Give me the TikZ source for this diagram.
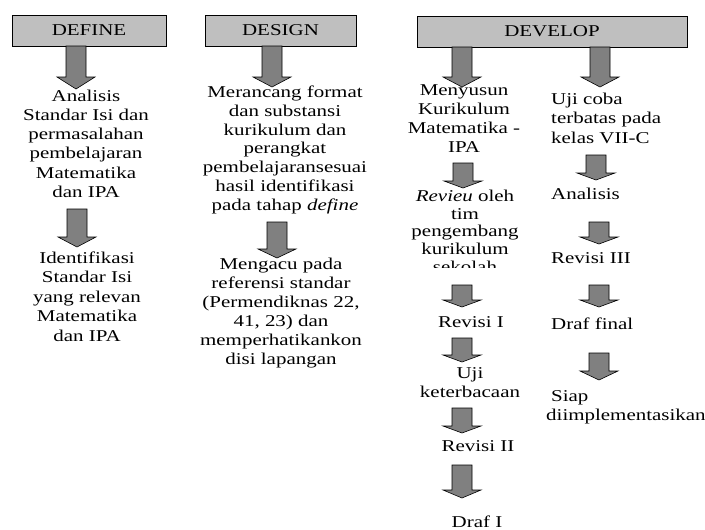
\documentclass[tikz,border=0pt]{standalone}
\usepackage{fontspec}
\setmainfont{Liberation Serif}[FakeStretch=1.27]
\usetikzlibrary{calc}
\definecolor{hdrgray}{gray}{0.75}
\definecolor{arrgray}{gray}{0.5}
\tikzset{
  hdr/.style={draw=black, line width=0.8pt, fill=hdrgray, inner sep=0pt,
    font=\fontsize{16.5}{19}\selectfont},
  txt/.style={inner sep=0pt, align=center, anchor=north,
    font=\fontsize{16.5}{19.2}\selectfont, execute at begin node=\strut},
  txtl/.style={txt, align=left, anchor=north west},
  blk/.style={draw=black, line width=0.6pt, fill=arrgray,
    to path={let \p1=(\tikztostart), \p2=(\tikztotarget) in
      (\x1-10pt,\y1) -- (\x1+10pt,\y1) -- (\x1+10pt,\y2+#1) -- (\x1+19pt,\y2+#1)
      -- (\x1,\y2) -- (\x1-19pt,\y2+#1) -- (\x1-10pt,\y2+#1) -- cycle}},
  blk/.default=10pt
}
\begin{document}
\begin{tikzpicture}[x=1pt,y=-1pt]
\useasboundingbox (0,0) rectangle (705,530);
% headers
\node[hdr, minimum width=154pt, minimum height=31pt] (define) at (89,30.5) {DEFINE};
\node[hdr, minimum width=151pt, minimum height=31pt] (design) at (280.5,30.5) {DESIGN};
\node[hdr, minimum width=270pt, minimum height=31pt] (develop) at (552,31.5) {DEVELOP};
% DEFINE column
\node[txt] (d1) at (86,89.6) {Analisis\\Standar Isi dan\\permasalahan\\pembelajaran\\Matematika\\dan IPA};
\node[txt, font=\fontsize{16.5}{19.5}\selectfont] (d2) at (87,251.6) {Identifikasi\\Standar Isi\\yang relevan\\Matematika\\dan IPA};
% DESIGN column
\node[txt, font=\fontsize{16.5}{18.8}\selectfont] (g1) at (285,85.6) {Merancang format\\dan substansi\\kurikulum dan\\perangkat\\pembelajaransesuai\\hasil identifikasi\\pada tahap \textit{define}};
\node[txt, font=\fontsize{16.5}{19}\selectfont] (g2) at (281,257.6) {Mengacu pada\\referensi standar\\(Permendiknas 22,\\41, 23) dan\\memperhatikankon\\disi lapangan};
% DEVELOP left column
\node[txt, font=\fontsize{16.5}{19}\selectfont] (v1) at (464,84.6) {Menyusun\\Kurikulum\\Matematika -\\IPA};
\begin{scope}
\clip (400,150) rectangle (540,267);
\node[txt, font=\fontsize{16.5}{17.8}\selectfont] (v2) at (465,189.6) {\textit{Revieu} oleh\\tim\\pengembang\\kurikulum\\sekolah};
\end{scope}
\node[txt] (v3) at (471,313.6) {Revisi I};
\node[txt, font=\fontsize{16.5}{18.5}\selectfont] (v4) at (470,367.6) {Uji\\keterbacaan};
\node[txt] (v5) at (478,437.6) {Revisi II};
\node[txt] (v6) at (477,513.6) {Draf I};
% DEVELOP right column
\node[txtl, font=\fontsize{16.5}{19.5}\selectfont] (r1) at (551,92.6) {Uji coba\\terbatas pada\\kelas VII-C};
\node[txtl] (r2) at (551,185.6) {Analisis};
\node[txtl] (r3) at (551,249.6) {Revisi III};
\node[txtl] (r4) at (551,315.6) {Draf final};
\node[txtl, font=\fontsize{16.5}{19.5}\selectfont] (r5) at (546,390) {\hspace*{5pt}Siap\\diimplementasikan};
% arrow end points
\coordinate (a1s) at (76,46);  \coordinate (a1e) at (76,89);
\coordinate (a2s) at (77,209); \coordinate (a2e) at (77,247);
\coordinate (a3s) at (272,46); \coordinate (a3e) at (272,87);
\coordinate (a4s) at (277,222); \coordinate (a4e) at (277,258);
\coordinate (a5s) at (462,47); \coordinate (a5e) at (462,87);
\coordinate (a6s) at (600,47); \coordinate (a6e) at (600,87);
\coordinate (a7s) at (463,163); \coordinate (a7e) at (463,188);
\coordinate (a8s) at (462,285); \coordinate (a8e) at (462,307);
\coordinate (a9s) at (462,338); \coordinate (a9e) at (462,362);
\coordinate (a10s) at (462,408); \coordinate (a10e) at (462,433);
\coordinate (a11s) at (462,465); \coordinate (a11e) at (462,498);
\coordinate (a12s) at (596,155); \coordinate (a12e) at (596,180);
\coordinate (a13s) at (599,222); \coordinate (a13e) at (599,244);
\coordinate (a14s) at (599,285); \coordinate (a14e) at (599,307);
\coordinate (a15s) at (599,353); \coordinate (a15e) at (599,380);
% block arrows
\draw[blk=12pt] (a1s) to (a1e);
\draw[blk=10pt] (a2s) to (a2e);
\draw[blk=10pt] (a3s) to (a3e);
\draw[blk=9pt] (a4s) to (a4e);
\draw[blk=10pt] (a5s) to (a5e);
\draw[blk=10pt] (a6s) to (a6e);
\draw[blk=7pt] (a7s) to (a7e);
\draw[blk=7pt] (a8s) to (a8e);
\draw[blk=7pt] (a9s) to (a9e);
\draw[blk=7pt] (a10s) to (a10e);
\draw[blk=8pt] (a11s) to (a11e);
\draw[blk=7pt] (a12s) to (a12e);
\draw[blk=7pt] (a13s) to (a13e);
\draw[blk=7pt] (a14s) to (a14e);
\draw[blk=9pt] (a15s) to (a15e);
\end{tikzpicture}
\end{document}
